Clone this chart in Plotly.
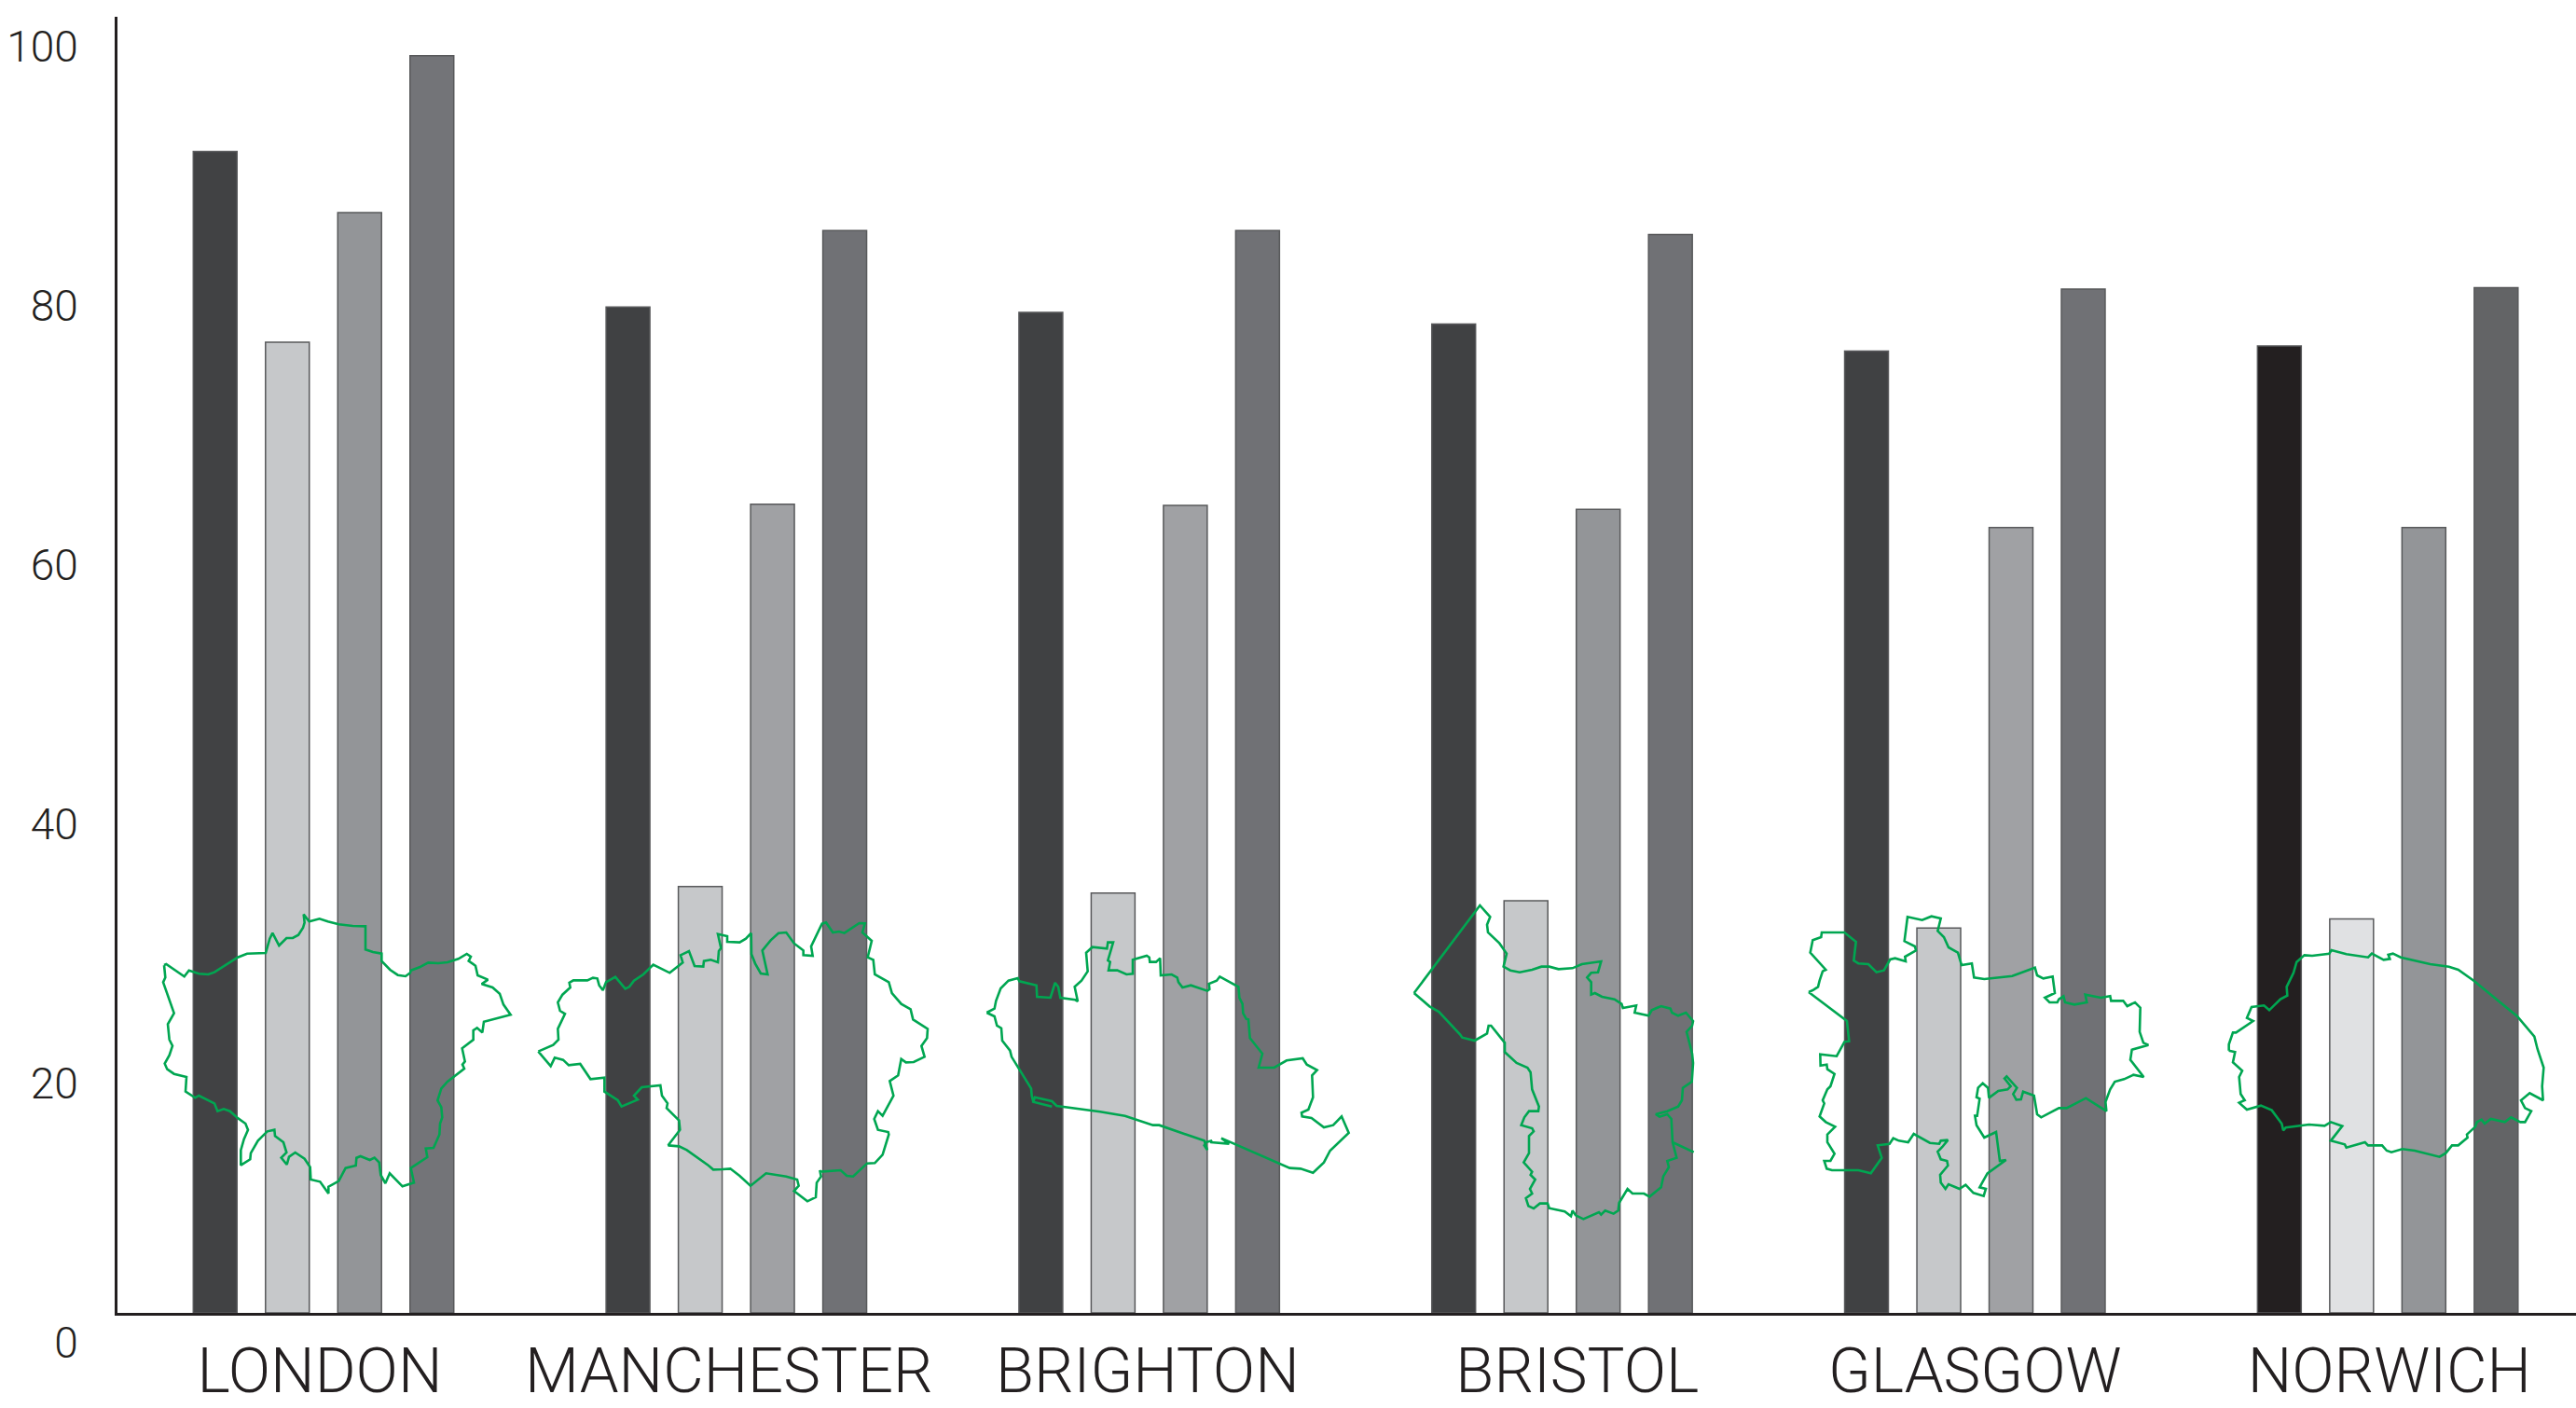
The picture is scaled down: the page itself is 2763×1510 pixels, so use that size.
import plotly.graph_objects as go

cities = ["LONDON", "MANCHESTER", "BRIGHTON", "BRISTOL", "GLASGOW", "NORWICH"]
city_pos = [0, 1, 2, 3, 4, 5]
label_pos = [-0.009, 0.982, 1.996, 3.037, 4.0, 5.004]
y_ticks = [0, 20, 40, 60, 80, 100]

series_a = [89.6, 77.6, 77.2, 76.3, 74.2, 74.6]
series_b = [74.9, 32.9, 32.4, 31.8, 29.7, 30.4]
series_c = [84.9, 62.4, 62.3, 62.0, 60.6, 60.6]
series_d = [97.0, 83.5, 83.5, 83.2, 79.0, 79.1]

colors_a = ["#414244", "#404143", "#404143", "#404143", "#404143", "#231f20"]
colors_b = ["#c6c8ca", "#c6c8ca", "#c6c8ca", "#c6c8ca", "#c6c8ca", "#e0e1e3"]
colors_c = ["#939598", "#a0a1a4", "#a0a1a4", "#939598", "#a0a1a4", "#939598"]
colors_d = ["#737478", "#707175", "#707175", "#707175", "#707175", "#636466"]

# Outlines: (origin x, origin y, points at 3x)
london = (130, 950, [(138,255),(145,252),(203,292),(218,272),(250,283),(280,285),(300,278),(340,252),(375,230),(405,218),(440,218),(465,216),(478,170),(487,152),(508,192),(532,168),(552,168),(570,158),(585,135),(590,118),(587,92),(605,115),(638,106),(665,115),(700,124),(745,129),(786,130),(786,205),(810,213),(838,218),(838,242),(865,270),(890,287),(915,291),(930,280),(932,272),(960,262),(988,247),(1020,249),(1050,246),(1085,235),(1112,219),(1125,228),(1118,242),(1140,257),(1147,288),(1180,302),(1160,316),(1195,327),(1218,347),(1230,382),(1253,415),(1167,437),(1162,472),(1145,457),(1133,465),(1133,495),(1097,523),(1106,565),(1098,575),(1104,588),(1050,630),(1030,652),(1018,690),(1030,712),(1033,745),(1026,765),(1024,800),(1005,843),(980,845),(985,873),(932,908),(942,955),(905,967),(864,925),(850,957),(835,930),(830,890),(815,875),(800,882),(770,870),(757,875),(755,900),(722,908),(700,950),(667,968),(667,990),(640,952),(610,945),(608,905),(590,878),(560,858),(540,872),(533,897),(515,875),(532,858),(522,825),(495,805),(493,785),(470,790),(440,820),(417,860),(415,880),(385,899),(385,850),(395,815),(408,785),(400,765),(372,745),(350,725),(330,718),(310,725),(300,700),(250,675),(238,682),(207,662),(210,615),(170,605),(148,590),(140,572),(155,545),(165,515),(155,495),(150,445),(170,410),(135,310),(142,295),(138,255)])
manchester = (560, 960, [(52,503),(100,482),(117,465),(115,430),(138,382),(122,372),(115,345),(130,320),(155,297),(152,282),(165,274),(210,274),(228,266),(242,268),(248,290),(260,306),(270,280),(300,263),(332,301),(345,295),(360,275),(390,255),(422,224),(475,250),(517,217),(510,193),(537,180),(555,228),(583,230),(585,212),(607,208),(630,216),(633,180),(640,170),(630,125),(660,132),(660,150),(700,152),(720,140),(737,122),(738,190),(750,220),(768,252),(790,255),(773,178),(800,145),(825,122),(850,120),(875,155),(905,178),(905,193),(935,195),(930,165),(965,92),(978,88),(1000,120),(1020,117),(1037,122),(1085,90),(1103,91),(1095,120),(1125,147),(1112,200),(1130,208),(1135,255),(1180,280),(1190,315),(1220,350),(1250,367),(1258,400),(1305,430),(1303,460),(1285,485),(1295,520),(1260,537),(1235,538),(1220,527),(1210,580),(1183,598),(1195,645),(1160,710),(1145,695),(1133,720),(1145,755),(1178,762),(1180,770),(1160,835),(1135,862),(1110,863),(1080,890),(1065,905),(1045,903),(1025,885),(960,890),(958,885),(962,905),(948,925),(945,972),(918,985),(875,952),(890,935),(885,915),(850,905),(785,895),(735,935),(700,903),(670,880),(645,882),(615,883),(600,870),(530,820),(505,808),(470,805),(508,755),(505,725),(465,685),(468,670),(450,645),(445,612),(385,618),(360,645),(372,658),(320,680),(308,660),(265,632),(265,587),(220,592),(187,543),(150,547),(132,530),(105,523),(92,550),(52,503)])
brighton = (1040, 980, [(55,318),(80,305),(85,280),(100,240),(125,215),(155,207),(160,217),(215,230),(217,267),(260,270),(275,222),(285,235),(292,270),(340,277),(348,282),(338,235),(360,215),(380,185),(375,125),(395,107),(442,112),(445,92),(462,92),(445,150),(452,155),(447,182),(475,182),(505,195),(525,193),(525,148),(570,135),(578,140),(580,155),(600,155),(613,143),(615,198),(650,195),(668,205),(672,220),(685,237),(712,230),(765,248),(772,243),(770,225),(795,215),(805,202),(865,235),(868,270),(878,290),(880,320),(890,338),(897,340),(902,400),(942,450),(930,495),(980,495),(1020,472),(1072,465),(1085,485),(1118,503),(1102,520),(1105,590),(1090,630),(1068,640),(1070,652),(1100,657),(1140,687),(1170,680),(1197,652),(1220,705),(1160,762),(1140,800),(1105,833),(1065,820),(1030,818),(1000,805),(835,735),(810,722),(835,740),(775,735),(780,730),(760,735),(755,745),(765,760),(755,730),(610,680),(590,680),(500,650),(420,637),(280,618),(265,603),(210,590),(205,605),(265,620),(205,605),(200,585),(198,562),(135,460),(130,440),(105,408),(102,368),(88,360),(80,330),(55,318)])
bristol = (1480, 950, [(110,345),(322,63),(355,100),(345,125),(348,150),(385,185),(408,218),(398,260),(420,272),(450,278),(490,270),(520,260),(545,260),(575,268),(620,265),(650,252),(712,243),(702,278),(680,280),(667,295),(680,310),(680,350),(692,345),(715,357),(755,365),(778,380),(782,393),(825,385),(820,408),(865,418),(875,400),(905,387),(935,395),(940,408),(960,418),(985,408),(1008,435),(1005,450),(987,470),(1005,540),(1008,570),(1004,630),(975,650),(972,690),(960,710),(925,725),(888,735),(900,743),(925,735),(938,750),(942,825),(1010,857),(942,825),(955,875),(925,885),(930,905),(912,935),(905,970),(868,1000),(850,990),(813,990),(797,975),(770,1020),(767,1045),(752,1055),(725,1045),(712,1058),(705,1050),(655,1072),(630,1060),(620,1045),(615,1063),(595,1048),(545,1037),(540,1022),(515,1022),(495,1038),(478,1030),(470,1005),(490,990),(483,975),(500,945),(485,930),(490,920),(463,890),(480,860),(480,805),(495,790),(490,780),(455,770),(465,745),(480,725),(510,725),(512,710),(490,655),(485,600),(475,585),(440,570),(402,535),(402,505),(358,450),(350,450),(345,475),(305,498),(265,488),(258,478),(190,405),(160,388),(110,345)])
glasgow = (1900, 960, [(120,312),(135,305),(150,295),(155,275),(165,245),(175,240),(125,185),(133,145),(160,135),(162,120),(235,120),(272,150),(265,210),(280,220),(312,222),(338,248),(362,242),(382,207),(398,203),(432,213),(430,198),(465,178),(462,165),(428,148),(438,70),(485,80),(515,68),(545,75),(535,115),(555,135),(570,168),(600,185),(612,225),(645,220),(652,265),(685,270),(775,260),(848,233),(855,258),(875,268),(905,262),(912,315),(880,330),(895,345),(920,345),(925,335),(940,325),(945,345),(975,352),(1015,345),(1010,320),(1060,330),(1090,325),(1093,340),(1132,340),(1145,357),(1170,345),(1187,362),(1185,440),(1197,475),(1213,482),(1160,497),(1155,530),(1198,585),(1165,578),(1135,592),(1105,600),(1090,625),(1075,665),(1078,695),(1012,653),(950,685),(925,685),(868,715),(855,705),(845,645),(810,632),(803,657),(788,658),(778,640),(790,620),(757,583),(750,590),(770,615),(760,625),(730,630),(700,652),(697,620),(680,605),(665,620),(660,650),(670,655),(662,710),(655,710),(660,740),(685,780),(723,762),(735,855),(755,852),(695,895),(670,940),(690,945),(683,968),(650,958),(625,932),(605,945),(570,930),(560,945),(545,925),(543,900),(568,870),(565,855),(545,850),(535,825),(550,810),(568,788),(545,790),(540,800),(510,797),(458,768),(440,795),(410,790),(392,782),(380,800),(342,805),(355,845),(320,895),(280,885),(195,885),(178,880),(170,855),(190,855),(203,832),(180,795),(180,770),(205,745),(175,730),(155,712),(170,670),(165,660),(180,625),(190,615),(203,575),(180,560),(178,545),(158,548),(157,512),(210,518),(235,472),(250,470),(243,405),(120,312)])
norwich = (2360, 980, [(92,440),(92,420),(105,382),(115,382),(170,345),(150,335),(165,300),(205,295),(222,310),(258,275),(280,263),(278,235),(300,190),(310,155),(335,133),(360,135),(415,128),(422,117),(470,130),(510,135),(540,140),(552,128),(590,148),(610,145),(605,132),(620,128),(645,140),(740,162),(800,170),(830,180),(880,215),(1020,330),(1075,395),(1085,435),(1105,495),(1100,555),(1103,600),(1060,577),(1032,600),(1045,625),(1065,635),(1045,670),(1030,670),(1000,655),(980,670),(935,660),(915,675),(905,662),(890,670),(885,685),(858,710),(860,720),(830,745),(810,745),(790,770),(770,782),(690,762),(650,757),(615,767),(600,762),(585,745),(540,745),(530,735),(470,752),(465,742),(420,730),(457,683),(420,670),(400,682),(350,678),(275,688),(267,697),(262,675),(230,632),(195,617),(150,630),(125,608),(143,600),(130,580),(125,525),(135,505),(105,478),(112,445),(92,440)])
outlines = [london, manchester, brighton, bristol, glasgow, norwich]

FONT = "Roboto"
fig = go.Figure()
for vals, cols in [(series_a, colors_a), (series_b, colors_b), (series_c, colors_c), (series_d, colors_d)]:
    fig.add_trace(go.Bar(x=city_pos, y=vals, marker=dict(color=cols, line=dict(color="#58595b", width=1.5)), showlegend=False))

for ox, oy, pts in outlines:
    fig.add_trace(go.Scatter(
        x=[ox + p[0] / 3 for p in pts], y=[oy + p[1] / 3 for p in pts],
        mode="lines", line=dict(color="#00a651", width=2.6), xaxis="x2", yaxis="y2",
        showlegend=False, hoverinfo="skip"))

fig.update_layout(
    width=2763, height=1510, autosize=False,
    margin=dict(l=126, r=0, t=18, b=102, pad=0),
    paper_bgcolor="white", plot_bgcolor="white",
    barmode="group", bargap=0.30, bargroupgap=0.394,
    showlegend=False,
    xaxis=dict(range=[-0.4991, 5.456], tickmode="array", tickvals=label_pos, ticktext=cities,
               showgrid=False, zeroline=False, showline=True, linecolor="#231f20", linewidth=3,
               ticks="", ticklabelstandoff=2, automargin=False,
               tickfont=dict(family=FONT, size=67, color="#231f20", weight=300)),
    yaxis=dict(range=[0, 100], tickmode="array", tickvals=y_ticks, ticktext=[str(v) for v in y_ticks],
               showgrid=False, zeroline=False, showline=True, linecolor="#231f20", linewidth=3,
               ticks="", ticklabelstandoff=30, ticklabelshift=32, automargin=False,
               tickfont=dict(family=FONT, size=46, color="#231f20", weight=300)),
    xaxis2=dict(range=[126, 2763], overlaying="x", visible=False, anchor="y2"),
    yaxis2=dict(range=[1408, 18], overlaying="y", visible=False, anchor="x2"),
)
fig.write_html("out.html", config={"displayModeBar": False}, post_script="document.body.style.margin='0';")
